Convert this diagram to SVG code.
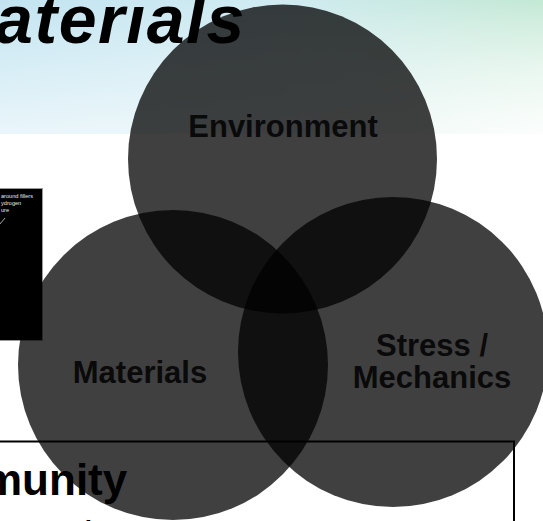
<svg xmlns="http://www.w3.org/2000/svg" width="543" height="521" viewBox="0 0 543 521">
  <defs>
    <linearGradient id="skyH" x1="0" y1="0" x2="1" y2="0">
      <stop offset="0" stop-color="#c2e4f1"/>
      <stop offset="0.5" stop-color="#d0ebf2"/>
      <stop offset="1" stop-color="#c4e9d5"/>
    </linearGradient>
    <linearGradient id="skyFade" x1="0" y1="0" x2="0" y2="1">
      <stop offset="0" stop-color="#ffffff" stop-opacity="0"/>
      <stop offset="0.5" stop-color="#ffffff" stop-opacity="0.35"/>
      <stop offset="1" stop-color="#ffffff" stop-opacity="0.65"/>
    </linearGradient>
    <linearGradient id="rightFade" x1="0" y1="0" x2="0" y2="1">
      <stop offset="0" stop-color="#ffffff" stop-opacity="0"/>
      <stop offset="1" stop-color="#ffffff" stop-opacity="0.8"/>
    </linearGradient>
    <linearGradient id="rampX" x1="0" y1="0" x2="1" y2="0">
      <stop offset="0" stop-color="#000"/>
      <stop offset="1" stop-color="#fff"/>
    </linearGradient>
    <mask id="rightMask" maskUnits="userSpaceOnUse" x="0" y="0" width="543" height="134">
      <rect x="240" y="0" width="303" height="134" fill="url(#rampX)"/>
    </mask>
    <style>
      .title { font-family: "Liberation Sans", Arial, sans-serif; font-weight: bold; font-style: italic; fill: #000; }
      .lbl { font-family: "Liberation Sans", Arial, sans-serif; font-weight: bold; font-size: 31px; fill: #0a0a0a; text-anchor: middle; }
      .big { font-family: "Liberation Sans", Arial, sans-serif; font-weight: bold; fill: #000; }
      .tiny { font-family: "Liberation Sans", Arial, sans-serif; font-size: 5.6px; fill: #e8e8e8; }
      .circle { fill: #000; fill-opacity: 0.75; }
    </style>
  </defs>

  <!-- page background -->
  <rect x="0" y="0" width="543" height="521" fill="#ffffff"/>
  <rect x="0" y="0" width="543" height="134" fill="url(#skyH)"/>
  <rect x="0" y="0" width="543" height="134" fill="url(#skyFade)"/>
  <rect x="240" y="0" width="303" height="134" fill="url(#rightFade)" mask="url(#rightMask)"/>

  <!-- slide title -->
  <text class="title" x="-5" y="43" font-size="68" letter-spacing="1.6">aterials</text>

  <!-- inset photo -->
  <g id="inset">
    <rect x="-1" y="188.5" width="43.5" height="152" fill="#000" stroke="#9a9a9a" stroke-width="1"/>
    <text class="tiny" x="1" y="198">around fillers</text>
    <text class="tiny" x="1" y="205">ydrogen</text>
    <text class="tiny" x="1" y="212">ure</text>
    <path d="M0 224 L5 218" stroke="#cfcfcf" stroke-width="0.8" fill="none"/>
  </g>

  <!-- text box frame -->
  <g id="textbox">
    <path d="M-2 441.5 H514 V523" fill="none" stroke="#000" stroke-width="2"/>
    <text class="big" x="-17" y="495" font-size="44">munity</text>
    <text class="big" x="72" y="539" font-size="26">t<tspan dx="4">i</tspan></text>
  </g>

  <!-- Venn circles -->
  <g id="environment">
    <circle class="circle" cx="282.5" cy="159" r="154.5"/>
    <text class="lbl" x="283" y="137">Environment</text>
  </g>
  <g id="materials">
    <circle class="circle" cx="173" cy="365" r="155"/>
    <text class="lbl" x="140" y="383">Materials</text>
  </g>
  <g id="stress-mechanics">
    <circle class="circle" cx="393" cy="352" r="155"/>
    <text class="lbl" x="432" y="356">Stress /</text>
    <text class="lbl" x="432" y="388">Mechanics</text>
  </g>

  <g id="connectors"></g>
</svg>
